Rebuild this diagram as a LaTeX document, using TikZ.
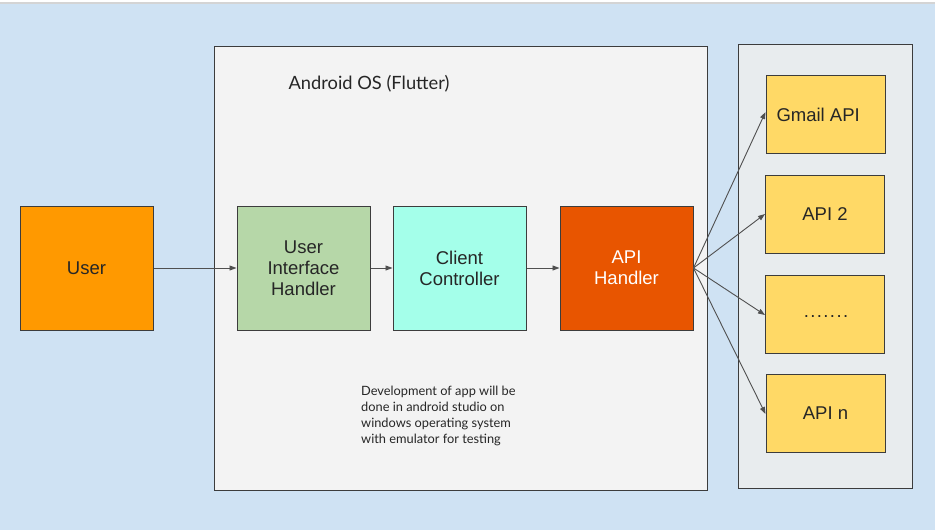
\documentclass[tikz,border=0pt]{standalone}
\usepackage{fontspec}
\setmainfont{Liberation Sans}
\newfontfamily\latofont{Lato}
\usetikzlibrary{arrows.meta}
\definecolor{bgblue}{HTML}{CFE2F3}
\definecolor{androidfill}{HTML}{F3F3F3}
\definecolor{apifill}{HTML}{E8ECEE}
\definecolor{userfill}{HTML}{FF9900}
\definecolor{uifill}{HTML}{B6D7A8}
\definecolor{ccfill}{HTML}{A4FFEA}
\definecolor{handlerfill}{HTML}{E85500}
\definecolor{yellowfill}{HTML}{FFD966}
\definecolor{edgegray}{HTML}{3C3C3C}
\definecolor{topline}{HTML}{D4D4D4}
\newcommand{\spreaddots}{.\kern1.4pt.\kern1.4pt.\kern1.4pt.\kern1.4pt.\kern1.4pt.\kern1.4pt.}
\tikzset{
  box/.style={draw=edgegray, line width=1pt, minimum width=133pt, minimum height=124pt, inner sep=0pt, align=center, font=\fontsize{18.5}{21}\selectfont, text=black!85},
  apibox/.style={draw=edgegray, line width=1pt, minimum width=119pt, minimum height=78pt, inner sep=0pt, fill=yellowfill, font=\fontsize{18.5}{21}\selectfont, text=black!85},
  conn/.style={draw=edgegray!90, line width=0.9pt, -{Triangle[length=7pt,width=5pt]}},
}
\begin{document}
\begin{tikzpicture}[x=1pt,y=-1pt]
\useasboundingbox (0,0) rectangle (935,530);
\fill[white] (0,0) rectangle (935,530);
\fill[bgblue] (0,4) rectangle (935,530);
\fill[topline] (0,2) rectangle (935,4);
% containers
\node[draw=edgegray, line width=1pt, fill=androidfill, minimum width=493pt, minimum height=444pt, inner sep=0pt, anchor=north west] (android) at (214,46) {};
\node[draw=edgegray, line width=1pt, fill=apifill, minimum width=174pt, minimum height=444pt, inner sep=0pt, anchor=north west] (apis) at (738,44) {};
\node[font=\latofont\fontsize{18.3}{21}\selectfont, text=black!85] (title) at (369,84) {Android OS (Flutter)};
% main boxes
\node[box, fill=userfill] (user) at (86.5,268) {User};
\node[box, fill=uifill] (ui) at (303.5,268) {User\\Interface\\Handler};
\node[box, fill=ccfill] (cc) at (459.5,268) {Client\\Controller};
\node[box, fill=handlerfill, text=white] (handler) at (626.5,268) {API\\Handler};
% api boxes
\node[apibox] (gmail) at (825.5,114.5) {};
\node[anchor=west, font=\fontsize{18.5}{21}\selectfont, text=black!85] (gmailtext) at (773,114.5) {Gmail API};
\node[apibox] (api2) at (825,214) {API 2};
\node[apibox] (dots) at (825,314) {};
\node[font=\fontsize{18.5}{21}\selectfont, text=black!85] (dotstext) at (826,317) {\spreaddots};
\node[apibox] (apin) at (825.5,413) {API n};
% note
\node[anchor=north west, align=left, font=\latofont\fontsize{12.8}{16}\selectfont, text=black!85, inner sep=0pt] (note) at (361,386) {Development of app will be\\done in android studio on\\windows operating system\\with emulator for testing};
% connectors
\draw[conn] (user.east) -- (ui.west);
\draw[conn] (ui.east) -- (cc.west);
\draw[conn] (cc.east) -- (handler.west);
\coordinate (src) at (handler.east);
\draw[conn] (src) -- ([yshift=2.5pt]gmail.west);
\draw[conn] (src) -- (api2.west);
\draw[conn] (src) -- ([yshift=-1pt]dots.west);
\draw[conn] (src) -- ([yshift=-1pt]apin.west);
\end{tikzpicture}
\end{document}
